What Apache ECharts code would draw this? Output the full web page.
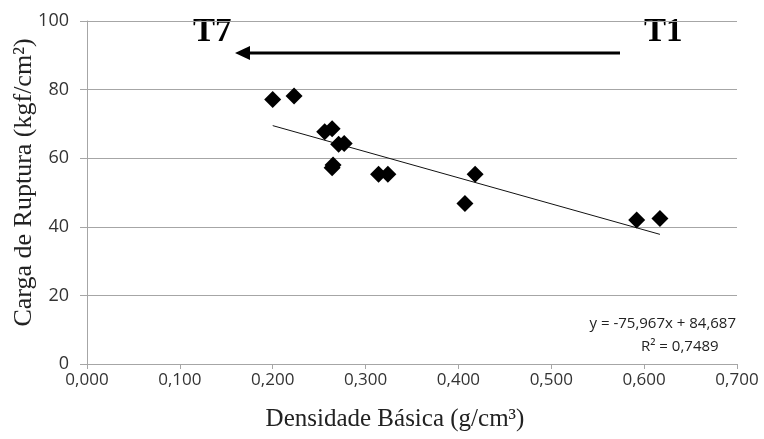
<!DOCTYPE html>
<html><head><meta charset="utf-8">
<script src="https://cdn.jsdelivr.net/npm/echarts@6/dist/echarts.min.js"></script>
<style>html,body{margin:0;padding:0;background:#fff}#c{width:764px;height:439px}</style>
</head><body><div id="c"></div>
<script>
// Densidade Básica (g/cm³) vs Carga de Ruptura (kgf/cm²)
var densidade = [0.200, 0.223, 0.256, 0.264, 0.271, 0.277, 0.264, 0.265, 0.314, 0.324, 0.407, 0.418, 0.592, 0.617];
var carga     = [77.1, 78.1, 67.7, 68.6, 64.1, 64.3, 57.2, 58.0, 55.3, 55.3, 46.8, 55.3, 42.0, 42.4];
// trend line endpoints (y = -75,967x + 84,687)
var trendX = [0.200, 0.617];
var trendY = [69.5, 37.8];
var xTicks = ['0,000','0,100','0,200','0,300','0,400','0,500','0,600','0,700'];
var yTicks = [0, 20, 40, 60, 80, 100];
var equation = 'y = -75,967x + 84,687';
var r2 = 'R² = 0,7489';

var pts = densidade.map(function(x, i){ return [x, carga[i]]; });
var trend = trendX.map(function(x, i){ return [x, trendY[i]]; });

var chart = echarts.init(document.getElementById('c'));
chart.setOption({
  animation: false,
  grid: {left: 87, right: 27, top: 21, bottom: 75, containLabel: false, outerBoundsMode: 'none'},
  xAxis: {
    type: 'value', min: 0, max: 0.7, interval: 0.1,
    name: 'Densidade Básica (g/cm³)', nameLocation: 'middle', nameGap: 43,
    nameTextStyle: {fontFamily: 'Liberation Serif', fontSize: 25, color: '#222', padding: [0, 34, 0, 0]},
    axisLine: {show: true, lineStyle: {color: '#a6a6a6'}},
    axisTick: {show: true, inside: false, length: 5, lineStyle: {color: '#a6a6a6'}},
    axisLabel: {fontFamily: 'Open Sans', fontSize: 17, color: '#333', margin: 8,
      formatter: function(v){ return xTicks[Math.round(v*10)]; }},
    splitLine: {show: false}
  },
  yAxis: {
    type: 'value', min: 0, max: 100, interval: 20,
    name: 'Carga de Ruptura (kgf/cm²)', nameLocation: 'middle', nameGap: 50, nameRotate: 90,
    nameMoveOverlap: false,
    nameTextStyle: {fontFamily: 'Liberation Serif', fontSize: 26, color: '#222', padding: [0, 0, 0, 20]},
    axisLine: {show: true, lineStyle: {color: '#a6a6a6'}},
    axisTick: {show: true, inside: false, length: 7, lineStyle: {color: '#a6a6a6'}},
    axisLabel: {fontFamily: 'Open Sans', fontSize: 18, color: '#333', margin: 18,
      formatter: function(v){ return yTicks.indexOf(v) >= 0 ? String(v) : ''; }},
    splitLine: {show: true, lineStyle: {color: '#a6a6a6', width: 1}}
  },
  series: [
    {type: 'line', data: trend, symbol: 'none', lineStyle: {color: '#111', width: 1}, z: 2},
    {type: 'scatter', data: pts, symbol: 'diamond', symbolSize: 17, itemStyle: {color: '#000', opacity: 1}, z: 3}
  ],
  graphic: [
    {type: 'text', left: 193, top: 16, style: {text: 'T7', font: 'bold 33px "Liberation Serif"', fill: '#000'}},
    {type: 'text', left: 644, top: 16, style: {text: 'T1', font: 'bold 33px "Liberation Serif"', fill: '#000'}},
    {type: 'line', shape: {x1: 620, y1: 53, x2: 248, y2: 53}, style: {stroke: '#000', lineWidth: 3}},
    {type: 'polygon', shape: {points: [[235, 53], [250, 46], [250, 60]]}, style: {fill: '#000'}},
    {type: 'text', right: 28, top: 316, style: {text: equation, font: '15px "Open Sans"', fill: '#222', align: 'right'}},
    {type: 'text', left: 641, top: 339, style: {text: r2, font: '15px "Open Sans"', fill: '#222'}}
  ]
});
</script></body></html>
